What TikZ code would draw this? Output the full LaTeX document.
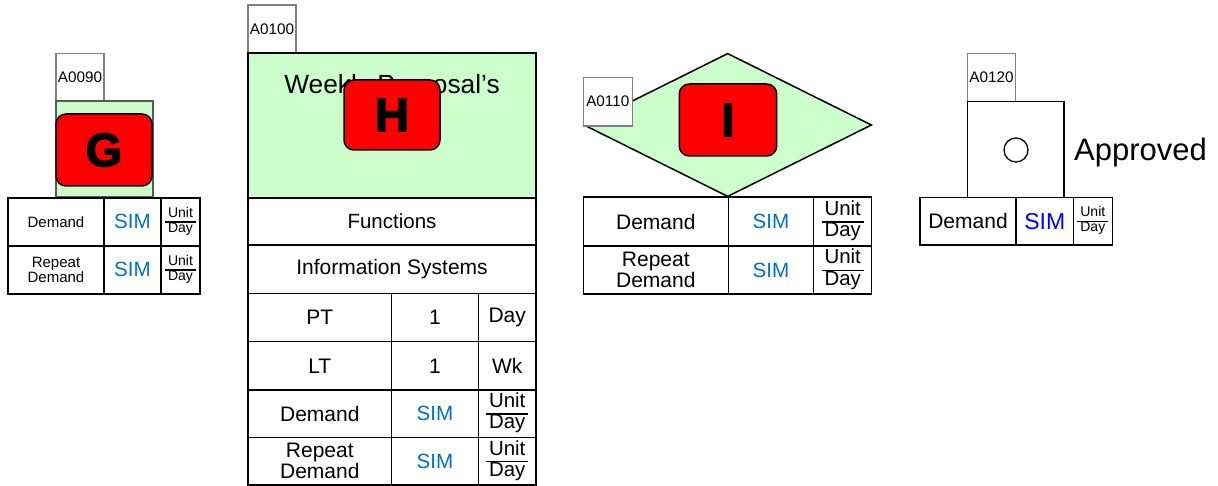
\documentclass[tikz,border=0pt]{standalone}
\usepackage{fontspec}
\setmainfont{Liberation Sans}
\newfontfamily\heavyfont{Liberation Sans}[BoldFeatures={FakeBold=3}]
\usetikzlibrary{shapes.geometric}
\definecolor{boxgreen}{HTML}{CCFFCC}
\definecolor{simblue}{HTML}{0070C0}
\definecolor{pureblue}{HTML}{0000FF}
\definecolor{tabgray}{HTML}{808080}
\newcommand\fsz[1]{\fontsize{#1}{#1}\selectfont}
\newcommand\ufrac[2]{\setlength{\arrayrulewidth}{1.5pt}\renewcommand{\arraystretch}{0.95}\begin{tabular}{@{\hspace{3pt}}c@{\hspace{3pt}}}#1\\\hline #2\end{tabular}}
\tikzset{
  cell/.style 2 args={draw=black, line width=1.5pt, inner sep=0pt, outer sep=0pt, minimum width=#1pt, minimum height=#2pt, align=center, text=black},
  tabbox/.style={draw=tabgray, fill=white, line width=1.2pt, inner sep=0pt, outer sep=0pt, minimum width=48pt, minimum height=48pt, font=\fsz{15.3}},
  redbox/.style 2 args={draw=black, fill=red, line width=1.5pt, rounded corners=10pt, inner sep=0pt, minimum width=#1pt, minimum height=#2pt, font=\heavyfont\bfseries\fsz{47}},
  sim/.style={text=simblue}
}
\begin{document}
\begin{tikzpicture}[x=1pt,y=-1pt]
\useasboundingbox (0,0) rectangle (1218,486);
% ---------- A0090 / G ----------
\node[tabbox] (tabG) at (80,77.5) {A0090};
\node[draw=black!65, fill=boxgreen, line width=2pt, inner sep=0pt, minimum width=96.7pt, minimum height=96pt] (boxG) at (104.3,149) {};
\node[redbox={96}{72}] (redG) at (104,150) {G};
\node[cell={96}{47.7}, font=\fsz{15}] (gd1) at (56,221.8) {Demand};
\node[cell={57}{47.7}, font=\fsz{20.6}, sim] (gs1) at (132.5,221.8) {SIM};
\node[cell={39}{47.7}, font=\fsz{14}] (gu1) at (180.5,221.8) {\ufrac{Unit}{Day}};
\node[cell={96}{48}, font=\fsz{15}] (gd2) at (56,269.8) {Repeat\\Demand};
\node[cell={57}{48}, font=\fsz{20.6}, sim] (gs2) at (132.5,269.8) {SIM};
\node[cell={39}{48}, font=\fsz{14}] (gu2) at (180.5,269.8) {\ufrac{Unit}{Day}};
% ---------- A0100 / H ----------
\node[tabbox] (tabH) at (272,29) {A0100};
\node[draw=black, fill=boxgreen, line width=1.5pt, inner sep=0pt, minimum width=288pt, minimum height=145pt] (boxH) at (392,125.5) {};
\node[anchor=base, inner sep=0pt, font=\fsz{26.3}] (titleH) at (392,94) {Weekly Proposal’s};
\node[redbox={96}{70}] (redH) at (392,115) {H};
\node[cell={288}{47}, font=\fsz{20.5}] (hf) at (392,221.5) {Functions};
\node[cell={288}{48.3}, font=\fsz{21}] (hi) at (392,269.2) {Information Systems};
\node[cell={143.7}{48.4}, font=\fsz{21}] (hp1) at (319.8,317.5) {PT};
\node[cell={86.6}{48.4}, font=\fsz{21}] (hp2) at (435,317.5) {1};
\node[cell={57.7}{48.4}, font=\fsz{21}] (hp3) at (507.2,317.5) {Day};
\node[cell={143.7}{48.3}, font=\fsz{21}] (hl1) at (319.8,365.8) {LT};
\node[cell={86.6}{48.3}, font=\fsz{21}] (hl2) at (435,365.8) {1};
\node[cell={57.7}{48.3}, font=\fsz{21}] (hl3) at (507.2,365.8) {Wk};
\node[cell={143.7}{47.3}, font=\fsz{21}] (hd1) at (319.8,413.7) {Demand};
\node[cell={86.6}{47.3}, font=\fsz{20.6}, sim] (hd2) at (435,413.7) {SIM};
\node[cell={57.7}{47.3}, font=\fsz{20.4}] (hd3) at (507.2,413.7) {\ufrac{Unit}{Day}};
\node[cell={143.7}{47.7}, font=\fsz{21}] (hr1) at (319.8,461.2) {Repeat\\Demand};
\node[cell={86.6}{47.7}, font=\fsz{20.6}, sim] (hr2) at (435,461.2) {SIM};
\node[cell={57.7}{47.7}, font=\fsz{20.4}] (hr3) at (507.2,461.2) {\ufrac{Unit}{Day}};
% ---------- A0110 / I ----------
\node[diamond, draw=black, fill=boxgreen, line width=1.5pt, inner sep=0pt, minimum width=288pt, minimum height=143.4pt] (diaI) at (727.7,125) {};
\node[tabbox, minimum width=49pt, minimum height=48.7pt] (tabI) at (607.8,101.7) {A0110};
\node[redbox={97.4}{72}] (redI) at (728,120) {I};
\node[cell={145}{48.5}, font=\fsz{21}] (id1) at (655.8,221.5) {Demand};
\node[cell={85.4}{48.5}, font=\fsz{20.6}, sim] (is1) at (771,221.5) {SIM};
\node[cell={58}{48.5}, font=\fsz{20.4}] (iu1) at (842.7,221.5) {\ufrac{Unit}{Day}};
\node[cell={145}{48}, font=\fsz{21}] (id2) at (655.8,270) {Repeat\\Demand};
\node[cell={85.4}{48}, font=\fsz{20.6}, sim] (is2) at (771,270) {SIM};
\node[cell={58}{48}, font=\fsz{20.4}] (iu2) at (842.7,270) {\ufrac{Unit}{Day}};
% ---------- A0120 ----------
\node[tabbox, minimum width=48.4pt, minimum height=48.4pt] (tabJ) at (991.5,77.5) {A0120};
\node[draw=black, fill=white, line width=1.5pt, inner sep=0pt, minimum width=96.3pt, minimum height=95.6pt] (boxJ) at (1015.8,149.5) {};
\node[circle, draw=black, line width=1.3pt, inner sep=0pt, minimum size=24pt] (circJ) at (1016,150) {};
\node[anchor=base west, inner sep=0pt, font=\fsz{31}] (apprJ) at (1074,160.7) {Approved};
\node[cell={96}{47.7}, font=\fsz{21}] (jd) at (968,221.2) {Demand};
\node[cell={57.3}{47.7}, font=\fsz{23}, text=pureblue] (js) at (1044.7,221.2) {SIM};
\node[cell={39}{47.7}, font=\fsz{14}] (ju) at (1092.8,221.2) {\ufrac{Unit}{Day}};
\end{tikzpicture}
\end{document}
